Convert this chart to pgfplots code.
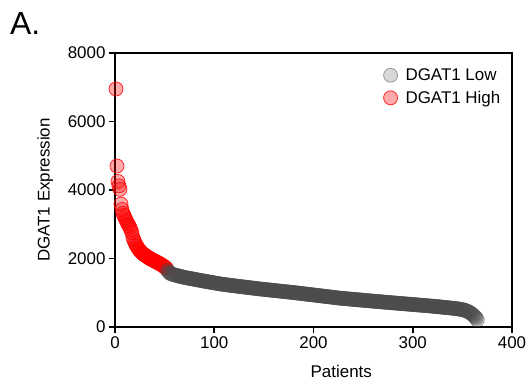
\documentclass[border=0pt]{standalone}
\usepackage{fontspec}
\setmainfont{Liberation Sans}
\usepackage{pgfplots}
\pgfplotsset{compat=1.18}
\definecolor{lowgray}{HTML}{4A4A4A}
\begin{document}
\begin{tikzpicture}
\path (-115bp,-63bp) rectangle (417bp,327bp);
\begin{axis}[
  at={(0,0)}, anchor=south west,
  scale only axis, width=397bp, height=274bp,
  xmin=0, xmax=400, ymin=0, ymax=8000,
  xtick={0,100,200,300,400}, ytick={0,2000,4000,6000,8000},
  scaled y ticks=false,
  /pgf/number format/1000 sep={},
  /pgf/number format/assume math mode=true,
  axis line style={line width=1.8bp},
  every tick/.style={line width=1.8bp, black},
  major tick length=6bp,
  tick align=outside,
  xtick pos=bottom, ytick pos=left,
  tick label style={font=\fontsize{17}{20}\selectfont},
  label style={font=\fontsize{17}{20}\selectfont},
  xlabel={Patients}, ylabel={DGAT1 Expression},
  xlabel style={at={(axis description cs:0.57,-0.164)}, anchor=center},
  ylabel style={at={(axis description cs:-0.176,0.5)}, anchor=center},
  clip=false,
  reverse legend,
  legend style={draw=none, fill=none, at={(axis description cs:0.676,0.951)}, anchor=north west,
    font=\fontsize{17}{20}\selectfont, row sep=5bp, inner sep=0pt,
    /tikz/every odd column/.append style={column sep=6bp}},
  legend cell align=left,
]
\addplot[only marks, mark=*, mark size=7bp, mark options={draw=red, fill=red, fill opacity=0.33, draw opacity=0.8, line width=0.8bp}]
coordinates {
(1,6950)(2,4700)(3,4250)(4,4120)(5,4020)(6,3590)(7,3430)(8,3320)(9,3260)(10,3190)
(11,3130)(12,3070)(13,3010)(14,2960)(15,2910)(16,2830)(17,2760)(18,2620)(19,2540)(20,2470)
(21,2410)(22,2360)(23,2310)(24,2270)(25,2230)(26,2200)(27,2170)(28,2140)(29,2120)(30,2100)
(31,2080)(32,2060)(33,2040)(34,2020)(35,2000)(36,1985)(37,1970)(38,1955)(39,1940)(40,1925)
(41,1910)(42,1895)(43,1880)(44,1865)(45,1850)(46,1835)(47,1815)(48,1795)(49,1775)(50,1755)
(51,1730)(52,1705)
};
\addlegendentry{DGAT1 High}
\addplot[only marks, mark=*, mark size=7bp, mark options={draw=lowgray, fill=lowgray, fill opacity=0.22, draw opacity=0.5, line width=0.8bp}]
coordinates {
(53,1650)(54,1610)(55,1575)(56,1560)(57,1550)(58,1540)(59,1530)(60,1522)
(61,1514)(62,1506)(63,1498)(64,1490)(65,1483)(66,1476)(67,1469)(68,1462)(69,1455)(70,1449)
(71,1443)(72,1437)(73,1431)(74,1425)(75,1420)(76,1415)(77,1410)(78,1404)(79,1399)(80,1393)
(81,1388)(82,1382)(83,1377)(84,1371)(85,1366)(86,1360)(87,1355)(88,1350)(89,1344)(90,1339)
(91,1334)(92,1329)(93,1323)(94,1318)(95,1313)(96,1308)(97,1303)(98,1298)(99,1293)(100,1288)
(101,1283)(102,1278)(103,1273)(104,1268)(105,1262)(106,1257)(107,1253)(108,1249)(109,1245)(110,1241)
(111,1238)(112,1234)(113,1230)(114,1226)(115,1222)(116,1219)(117,1215)(118,1211)(119,1208)(120,1204)
(121,1200)(122,1197)(123,1193)(124,1189)(125,1186)(126,1182)(127,1179)(128,1175)(129,1171)(130,1168)
(131,1164)(132,1161)(133,1157)(134,1153)(135,1150)(136,1146)(137,1143)(138,1139)(139,1136)(140,1132)
(141,1129)(142,1125)(143,1122)(144,1118)(145,1114)(146,1111)(147,1108)(148,1105)(149,1102)(150,1098)
(151,1095)(152,1092)(153,1089)(154,1086)(155,1083)(156,1080)(157,1077)(158,1073)(159,1070)(160,1067)
(161,1064)(162,1061)(163,1058)(164,1055)(165,1052)(166,1049)(167,1046)(168,1042)(169,1039)(170,1036)
(171,1033)(172,1030)(173,1027)(174,1024)(175,1020)(176,1017)(177,1014)(178,1011)(179,1008)(180,1004)
(181,1001)(182,998)(183,995)(184,992)(185,988)(186,985)(187,981)(188,978)(189,974)(190,971)
(191,967)(192,964)(193,960)(194,957)(195,953)(196,950)(197,946)(198,943)(199,939)(200,936)
(201,932)(202,929)(203,925)(204,922)(205,918)(206,915)(207,911)(208,908)(209,904)(210,901)
(211,897)(212,894)(213,890)(214,887)(215,883)(216,880)(217,876)(218,873)(219,869)(220,866)
(221,862)(222,859)(223,855)(224,852)(225,848)(226,845)(227,841)(228,838)(229,836)(230,833)
(231,831)(232,828)(233,825)(234,823)(235,820)(236,818)(237,815)(238,812)(239,810)(240,807)
(241,805)(242,802)(243,799)(244,797)(245,794)(246,792)(247,789)(248,786)(249,784)(250,781)
(251,779)(252,776)(253,773)(254,771)(255,768)(256,766)(257,763)(258,760)(259,758)(260,755)
(261,753)(262,750)(263,747)(264,745)(265,742)(266,740)(267,737)(268,735)(269,732)(270,730)
(271,727)(272,725)(273,723)(274,720)(275,718)(276,715)(277,713)(278,710)(279,708)(280,705)
(281,703)(282,701)(283,698)(284,696)(285,693)(286,691)(287,688)(288,686)(289,684)(290,681)
(291,679)(292,676)(293,674)(294,671)(295,669)(296,667)(297,664)(298,662)(299,659)(300,657)
(301,654)(302,652)(303,650)(304,647)(305,645)(306,642)(307,640)(308,637)(309,635)(310,633)
(311,630)(312,628)(313,625)(314,623)(315,620)(316,618)(317,615)(318,613)(319,610)(320,607)
(321,605)(322,602)(323,599)(324,597)(325,594)(326,591)(327,588)(328,585)(329,582)(330,579)
(331,576)(332,573)(333,570)(334,567)(335,564)(336,561)(337,558)(338,555)(339,552)(340,549)
(341,546)(342,542)(343,539)(344,535)(345,531)(346,527)(347,523)(348,518)(349,513)(350,507)
(351,500)(352,492)(353,483)(354,472)(355,460)(356,446)(357,430)(358,412)(359,392)(360,370)
(361,345)(362,318)(363,288)(364,255)(365,205)
};
\addlegendentry{DGAT1 Low}
\end{axis}
\node[anchor=base west, font=\fontsize{32}{36}\selectfont, inner sep=0pt] at (-105bp,292bp) {A.};
\end{tikzpicture}
\end{document}
